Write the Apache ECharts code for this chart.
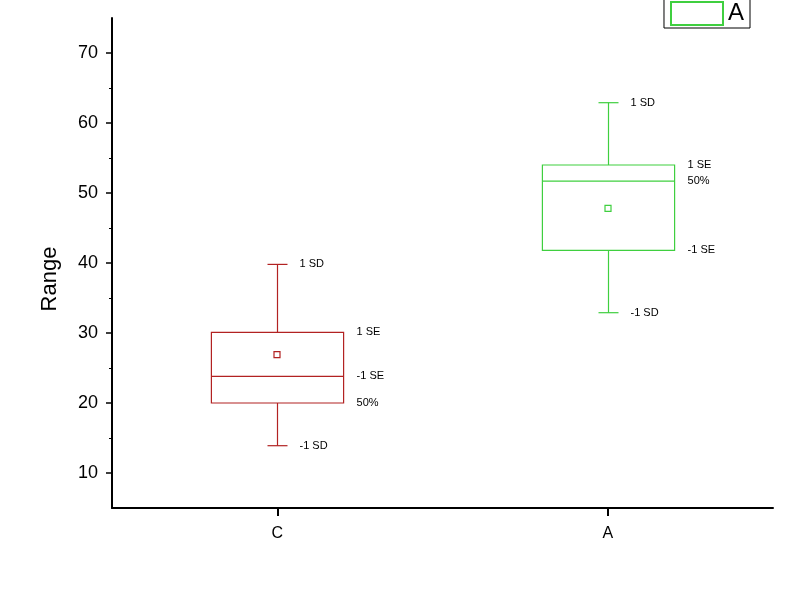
<!DOCTYPE html>
<html>
<head>
<meta charset="utf-8">
<script src="https://cdn.jsdelivr.net/npm/echarts@6/dist/echarts.min.js"></script>
<style>html,body{margin:0;padding:0;background:#fff;}#main{width:790px;height:599px;}</style>
</head>
<body>
<div id="main"></div>
<script>
// Categories on the x axis
const categories = ['C', 'A'];
// Values per box: [low whisker, box bottom, inner line, box top, high whisker]
const valuesC = [13.9, 20.0, 23.8, 30.1, 39.8];
const meanC = 26.9;
const labelsC = ['-1 SD', '50%', '-1 SE', '1 SE', '1 SD'];
const valuesA = [32.9, 41.8, 51.7, 54.0, 62.9];
const meanA = 47.8;
const labelsA = ['-1 SD', '-1 SE', '50%', '1 SE', '1 SD'];
// Y axis ticks
const yMajorTicks = [10, 20, 30, 40, 50, 60, 70];
const yMinorTicks = [15, 25, 35, 45, 55, 65];

const RED = '#B22222';
const GREEN = '#3FCF3F';
const FONT = '"Liberation Sans", Arial, sans-serif';

function makeRender(labels, color) {
  return function (params, api) {
    const x = api.value(0);
    const v = [api.value(1), api.value(2), api.value(3), api.value(4), api.value(5)];
    const mean = api.value(6);
    const band = api.size([1, 0])[0];
    const half = band * 0.2;
    const cap = 10;
    const p = v.map(val => api.coord([x, val]));
    const cx = Math.round(p[0][0]) + 0.5;
    const pm = api.coord([x, mean]);
    const ls = { stroke: color, lineWidth: 1.2, fill: null };
    const children = [
      { type: 'line', shape: { x1: cx, y1: p[4][1], x2: cx, y2: p[3][1] }, style: ls },
      { type: 'line', shape: { x1: cx, y1: p[1][1], x2: cx, y2: p[0][1] }, style: ls },
      { type: 'line', shape: { x1: cx - cap, y1: p[4][1], x2: cx + cap, y2: p[4][1] }, style: ls },
      { type: 'line', shape: { x1: cx - cap, y1: p[0][1], x2: cx + cap, y2: p[0][1] }, style: ls },
      { type: 'rect', shape: { x: cx - half, y: p[3][1], width: 2 * half, height: p[1][1] - p[3][1] }, style: ls },
      { type: 'line', shape: { x1: cx - half, y1: p[2][1], x2: cx + half, y2: p[2][1] }, style: ls },
      { type: 'rect', shape: { x: cx - 3.5, y: pm[1] - 3, width: 6, height: 6 }, style: { stroke: color, lineWidth: 1.2, fill: '#fff' } }
    ];
    const txt = (tx, ty, s) => ({
      type: 'text', x: tx, y: ty,
      style: { text: s, fill: '#000', font: '11px ' + FONT, align: 'left', verticalAlign: 'middle' }
    });
    children.push(txt(cx + 22, p[0][1], labels[0]));
    children.push(txt(cx + 22, p[4][1], labels[4]));
    children.push(txt(cx + half + 13, p[1][1], labels[1]));
    children.push(txt(cx + half + 13, p[2][1], labels[2]));
    children.push(txt(cx + half + 13, p[3][1], labels[3]));
    return { type: 'group', children: children };
  };
}

const chart = echarts.init(document.getElementById('main'));
chart.setOption({
  animation: false,
  backgroundColor: '#fff',
  grid: { left: 112, right: 17, top: 18, bottom: 91, containLabel: false },
  legend: {
    right: 40, top: -2,
    orient: 'vertical',
    borderColor: '#000', borderWidth: 1,
    padding: [3, 6, 2, 6],
    itemWidth: 52, itemHeight: 23, itemGap: 4,
    textStyle: { fontSize: 24, color: '#000', fontFamily: FONT },
    data: [{ name: 'A', icon: 'rect', itemStyle: { color: '#fff', borderColor: GREEN, borderWidth: 2 } }]
  },
  xAxis: {
    type: 'category',
    data: categories,
    boundaryGap: true,
    axisLine: { show: true, lineStyle: { color: '#000', width: 2 } },
    axisTick: { show: true, interval: 0, alignWithLabel: true, length: 8, lineStyle: { color: '#000', width: 2 } },
    axisLabel: { color: '#000', fontSize: 16, margin: 18, interval: 0, fontFamily: FONT },
    splitLine: { show: false }
  },
  yAxis: [{
    type: 'value', min: 5, max: 75,
    axisLine: { show: true, lineStyle: { color: '#000', width: 2 } },
    axisTick: { show: true, length: 6, customValues: yMajorTicks, lineStyle: { color: '#000', width: 1.5 } },
    axisLabel: { color: '#000', fontSize: 18, margin: 14, customValues: yMajorTicks, fontFamily: FONT },
    splitLine: { show: false }
  }, {
    type: 'value', min: 5, max: 75, position: 'left',
    axisLine: { show: false },
    axisTick: { show: true, length: 3, customValues: yMinorTicks, lineStyle: { color: '#000', width: 1 } },
    axisLabel: { show: false },
    splitLine: { show: false }
  }],
  graphic: [{
    type: 'text', x: 50, y: 279, rotation: Math.PI / 2,
    style: { text: 'Range', font: '22px ' + FONT, fill: '#000', align: 'center', verticalAlign: 'middle' }
  }],
  series: [{
    name: 'C', type: 'custom',
    itemStyle: { color: RED },
    renderItem: makeRender(labelsC, RED),
    data: [[0].concat(valuesC, [meanC])]
  }, {
    name: 'A', type: 'custom',
    itemStyle: { color: GREEN },
    renderItem: makeRender(labelsA, GREEN),
    data: [[1].concat(valuesA, [meanA])]
  }]
});
</script>
</body>
</html>
